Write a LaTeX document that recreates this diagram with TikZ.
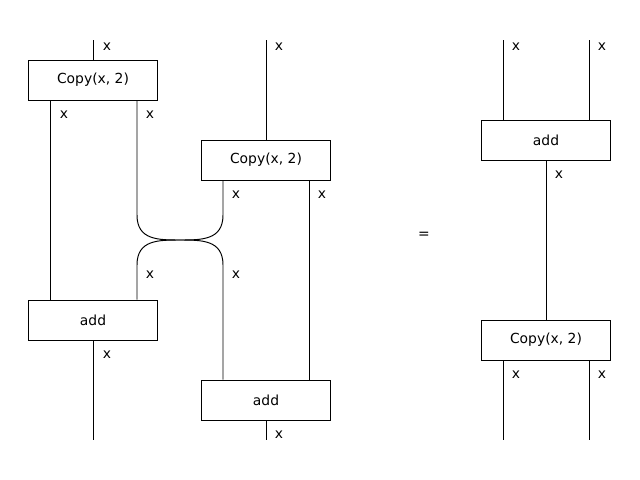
\documentclass[tikz,border=0pt]{standalone}
\usepackage{fontspec}
\setmainfont{DejaVu Sans}
\usetikzlibrary{calc}

\tikzset{
  box/.style={draw, fill=white, line width=0.7pt, minimum width=93pt, minimum height=28.8pt, inner sep=0pt, font=\fontsize{10}{12}\selectfont},
  lbl/.style={inner sep=0pt, font=\fontsize{10}{12}\selectfont},
  wire/.style={line width=0.7pt}
}

\begin{document}
\begin{tikzpicture}[x=0.72pt, y=-0.72pt]
            \useasboundingbox (0,0) rectangle (640,480);

            % Left side boxes
            \node[box] (copyA) at (93,80) {Copy(x, 2)};
            \node[box] (copyB) at (266,160) {Copy(x, 2)};
            \node[box] (addA) at (93,320) {add};
            \node[box] (addB) at (266,400) {add};

            % Right side boxes
            \node[box] (addC) at (546,140) {add};
            \node[box] (copyC) at (546,340) {Copy(x, 2)};

            \node[lbl] (eq) at (424,235) {=};

            % Free wire ends
            \coordinate (inA) at (93,40);
            \coordinate (inB) at (266,40);
            \coordinate (outA) at (93,440);
            \coordinate (outB) at (266,440);
            \coordinate (inCl) at (503,40);
            \coordinate (inCr) at (589,40);
            \coordinate (outCl) at (503,440);
            \coordinate (outCr) at (589,440);

            % Swap points
            \coordinate (swTL) at (137,215);
            \coordinate (swTR) at (223,215);
            \coordinate (swM) at (180,240);
            \coordinate (swBL) at (137,265);
            \coordinate (swBR) at (223,265);

            % Wires on the left
            \draw[wire] (inA) -- (copyA.north);
            \draw[wire] (inB) -- (copyB.north);
            \draw[wire] ($(copyA.south)+(-43,0)$) -- ($(addA.north)+(-43,0)$);
            \draw[wire] ($(copyB.south)+(43,0)$) -- ($(addB.north)+(43,0)$);
            \draw[wire] ($(copyA.south)+(44,0)$) -- (swTL) .. controls (137,240) and (158,240) .. (swM)
                  .. controls (202,240) and (223,240) .. (swBR) -- ($(addB.north)+(-43,0)$);
            \draw[wire] ($(copyB.south)+(-43,0)$) -- (swTR) .. controls (223,240) and (202,240) .. (swM)
                  .. controls (158,240) and (137,240) .. (swBL) -- ($(addA.north)+(44,0)$);
            \draw[wire] (addA.south) -- (outA);
            \draw[wire] (addB.south) -- (outB);

            % Wires on the right
            \draw[wire] (inCl) -- (inCl |- addC.north);
            \draw[wire] (inCr) -- (inCr |- addC.north);
            \draw[wire] (addC.south) -- (copyC.north);
            \draw[wire] (outCl |- copyC.south) -- (outCl);
            \draw[wire] (outCr |- copyC.south) -- (outCr);

            % Labels
            \node[lbl] (lA) at (107,47) {x};
            \node[lbl] (lB) at (279,47) {x};
            \node[lbl] (lC) at (64,115) {x};
            \node[lbl] (lD) at (150,115) {x};
            \node[lbl] (lE) at (236,195) {x};
            \node[lbl] (lF) at (322,195) {x};
            \node[lbl] (lG) at (150,275) {x};
            \node[lbl] (lH) at (236,275) {x};
            \node[lbl] (lI) at (107,355) {x};
            \node[lbl] (lJ) at (279,435) {x};
            \node[lbl] (lK) at (516,47) {x};
            \node[lbl] (lL) at (602,47) {x};
            \node[lbl] (lM) at (559,175) {x};
            \node[lbl] (lN) at (516,375) {x};
            \node[lbl] (lO) at (602,375) {x};
        \end{tikzpicture}
\end{document}
